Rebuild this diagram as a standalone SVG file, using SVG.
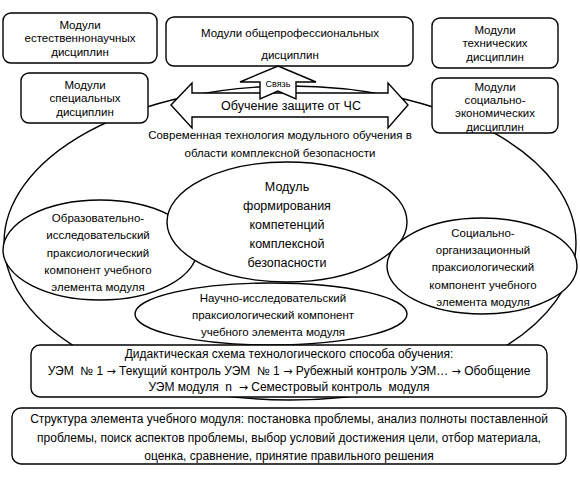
<svg xmlns="http://www.w3.org/2000/svg" width="580" height="479" viewBox="0 0 580 479">
<style>
.s{fill:#fff;stroke:#000;stroke-width:1.4}
.n{fill:none;stroke:#000;stroke-width:1.4}
text{font-family:"Liberation Sans",Arial,sans-serif;font-size:11.5px;fill:#000;text-anchor:middle}
.b{font-size:12.5px}
.m{font-size:12px}
.sm{font-size:9px}
.a{font-family:"DejaVu Sans",sans-serif;font-size:11px}
</style>
<rect width="580" height="479" fill="#fff"/>
<g id="frame">
<ellipse class="n" cx="290" cy="243" rx="286" ry="157"/>
<text x="280" y="139">Современная технология модульного обучения в</text>
<text x="280" y="157">области комплексной безопасности</text>
</g>
<g id="edu">
<ellipse class="s" cx="100" cy="250" rx="97" ry="50"/>
<text x="98" y="222">Образовательно-</text>
<text x="98" y="239">исследовательский</text>
<text x="98" y="257">праксиологический</text>
<text x="98" y="274">компонент учебного</text>
<text x="98" y="291">элемента модуля</text>
</g>
<g id="sci">
<ellipse class="s" cx="271" cy="314" rx="136" ry="31"/>
<text x="273" y="302">Научно-исследовательский</text>
<text x="273" y="319">праксиологический компонент</text>
<text x="273" y="336">учебного элемента модуля</text>
</g>
<g id="center">
<ellipse class="s" cx="287" cy="222" rx="120" ry="60"/>
<text class="b" x="287" y="191">Модуль</text>
<text class="b" x="287" y="210">формирования</text>
<text class="b" x="287" y="229">компетенций</text>
<text class="b" x="287" y="248">комплексной</text>
<text class="b" x="287" y="267">безопасности</text>
</g>
<g id="soc">
<ellipse class="s" cx="482" cy="266" rx="95" ry="48"/>
<text x="483" y="237">Социально-</text>
<text x="483" y="254">организационный</text>
<text x="483" y="271">праксиологический</text>
<text x="483" y="289">компонент учебного</text>
<text x="483" y="306">элемента модуля</text>
</g>
<g id="box-nat">
<rect class="s" x="3" y="13" width="154" height="50" rx="8"/>
<text x="80" y="29">Модули</text>
<text x="80" y="42">естественнонаучных</text>
<text x="80" y="56">дисциплин</text>
</g>
<g id="box-spec">
<rect class="s" x="21" y="73" width="127" height="50" rx="8"/>
<text x="85" y="89">Модули</text>
<text x="85" y="102">специальных</text>
<text x="85" y="116">дисциплин</text>
</g>
<g id="box-gen">
<rect class="s" x="166" y="17" width="247" height="49" rx="8"/>
<text x="290" y="37">Модули общепрофессиональных</text>
<text x="290" y="59">дисциплин</text>
</g>
<g id="box-tech">
<rect class="s" x="432" y="18" width="126" height="50" rx="8"/>
<text x="495" y="34">Модули</text>
<text x="495" y="47">технических</text>
<text x="495" y="61">дисциплин</text>
</g>
<g id="box-socec">
<rect class="s" x="432" y="78" width="126" height="55" rx="8"/>
<text x="495" y="91">Модули</text>
<text x="495" y="104">социально-</text>
<text x="495" y="117">экономических</text>
<text x="495" y="131">дисциплин</text>
</g>
<g id="connectors">
<polygon class="s" points="171,105 192,83 192,93 388,93 388,83 408,105 388,128 388,117 192,117 192,128"/>
<polygon class="s" points="278,66 316,82 296,82 296,99 278,91 260,99 260,82 240,82"/>
<text class="sm" x="278" y="87">Связь</text>
<text class="b" x="291" y="110">Обучение защите от ЧС</text>
</g>
<g id="box-did">
<rect class="s" x="31" y="345" width="516" height="52" rx="9"/>
<text class="m" x="289" y="358">Дидактическая схема технологического способа обучения:</text>
<text class="m" x="289" y="375" xml:space="preserve">УЭМ  № 1 <tspan class="a">→</tspan> Текущий контроль УЭМ  № 1 <tspan class="a">→</tspan> Рубежный контроль УЭМ… <tspan class="a">→</tspan> Обобщение</text>
<text class="m" x="289" y="391" xml:space="preserve">УЭМ модуля  n  <tspan class="a">→</tspan> Семестровый контроль  модуля</text>
</g>
<g id="box-struct">
<rect class="s" x="12" y="408" width="554" height="56" rx="9"/>
<text class="m" x="289" y="423">Структура элемента учебного модуля: постановка проблемы, анализ полноты поставленной</text>
<text class="m" x="289" y="442">проблемы, поиск аспектов проблемы, выбор условий достижения цели, отбор материала,</text>
<text class="m" x="289" y="460">оценка, сравнение, принятие правильного решения</text>
</g>
</svg>
